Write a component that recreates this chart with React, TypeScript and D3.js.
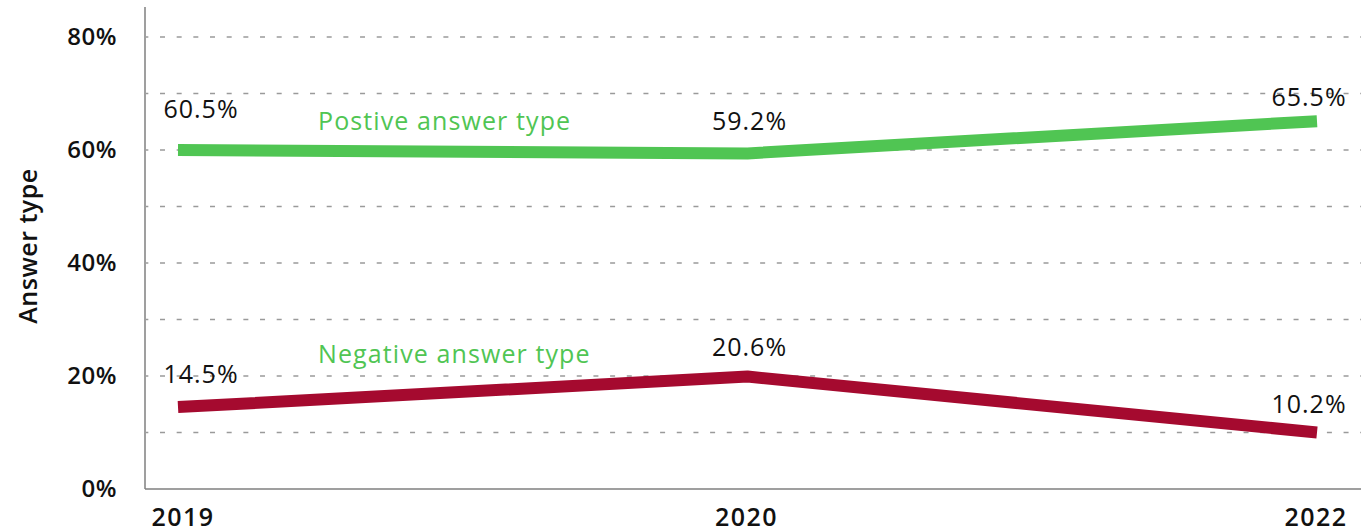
import { useEffect, useRef } from "react";
import * as d3 from "d3";

const years = ["2019", "2020", "2022"];
const positive = [60.0, 59.4, 65.1];
const negative = [14.5, 19.9, 10.0];
const positiveLabels = ["60.5%", "59.2%", "65.5%"];
const negativeLabels = ["14.5%", "20.6%", "10.2%"];
const gridTicks = [10, 20, 30, 40, 50, 60, 70, 80];
const yTickLabels = [0, 20, 40, 60, 80];

const FONT = "'Open Sans', 'DejaVu Sans', sans-serif";

const App = () => {
  const ref = useRef<SVGSVGElement>(null);

  useEffect(() => {
    const dims = { width: 1361, height: 530, left: 145, right: 1361, top: 7, bottom: 489 };
    const svg = d3.select(ref.current);
    svg.selectAll("*").remove();

    const x = d3.scalePoint().domain(years).range([178, 1317]);
    const y = d3.scaleLinear().domain([0, 80]).range([dims.bottom, 37]);

    // dashed gridlines
    svg
      .append("g")
      .selectAll("line")
      .data(gridTicks)
      .enter()
      .append("line")
      .attr("x1", dims.left + 1)
      .attr("x2", dims.right)
      .attr("y1", (d) => y(d))
      .attr("y2", (d) => y(d))
      .attr("stroke", "#9a9a9a")
      .attr("stroke-width", 1.3)
      .attr("stroke-dasharray", "5 11.67")
      .attr("stroke-dashoffset", 2.67);

    // axes lines
    svg
      .append("line")
      .attr("x1", dims.left)
      .attr("x2", dims.left)
      .attr("y1", dims.top)
      .attr("y2", dims.bottom)
      .attr("stroke", "#7f7f7f")
      .attr("stroke-width", 1.5);
    svg
      .append("line")
      .attr("x1", dims.left)
      .attr("x2", dims.right)
      .attr("y1", dims.bottom)
      .attr("y2", dims.bottom)
      .attr("stroke", "#7f7f7f")
      .attr("stroke-width", 1.5);

    // y tick labels
    svg
      .append("g")
      .selectAll("text")
      .data(yTickLabels)
      .enter()
      .append("text")
      .attr("x", 117)
      .attr("y", (d) => y(d))
      .attr("dy", "0.35em")
      .attr("text-anchor", "end")
      .attr("font-family", FONT)
      .attr("font-size", 24)
      .attr("font-weight", 600)
      .attr("letter-spacing", 0.5)
      .attr("fill", "#111")
      .text((d) => d + "%");

    // x tick labels
    svg
      .append("g")
      .selectAll("text")
      .data(years)
      .enter()
      .append("text")
      .attr("x", (d, i) => (x(d) as number) + [5, -1, -1][i])
      .attr("y", 526)
      .attr("text-anchor", "middle")
      .attr("font-family", FONT)
      .attr("font-size", 25)
      .attr("font-weight", 600)
      .attr("letter-spacing", 1.5)
      .attr("fill", "#111")
      .text((d) => d);

    // y axis title
    svg
      .append("text")
      .attr("transform", "translate(37,246) rotate(-90)")
      .attr("text-anchor", "middle")
      .attr("font-family", FONT)
      .attr("font-size", 25)
      .attr("font-weight", 600)
      .attr("letter-spacing", 0.5)
      .attr("fill", "#111")
      .text("Answer type");

    const line = d3
      .line<number>()
      .x((d, i) => x(years[i]) as number)
      .y((d) => y(d));

    const series = [
      { values: positive, labels: positiveLabels, color: "#50c553", dx: [23, 2, -8], dy: [-32, -23, -15] },
      { values: negative, labels: negativeLabels, color: "#a50a2f", dx: [23, 2, -8], dy: [-24, -21, -20] },
    ];

    series.forEach((s) => {
      svg
        .append("path")
        .datum(s.values)
        .attr("d", line)
        .attr("fill", "none")
        .attr("stroke", s.color)
        .attr("stroke-width", 12)
        .attr("stroke-linejoin", "round")
        .attr("stroke-linecap", "butt");

      svg
        .append("g")
        .selectAll("text")
        .data(s.values)
        .enter()
        .append("text")
        .attr("x", (d, i) => (x(years[i]) as number) + s.dx[i])
        .attr("y", (d, i) => y(d) + s.dy[i])
        .attr("text-anchor", "middle")
        .attr("font-family", FONT)
        .attr("font-size", 25)
        .attr("font-weight", 500)
        .attr("letter-spacing", 1)
        .attr("fill", "#111")
        .text((d, i) => s.labels[i]);
    });

    // series names
    const names = [
      { text: "Postive answer type", value: positive[0], dy: -20 },
      { text: "Negative answer type", value: negative[0], dy: -44 },
    ];
    svg
      .append("g")
      .selectAll("text")
      .data(names)
      .enter()
      .append("text")
      .attr("x", 318)
      .attr("y", (d) => y(d.value) + d.dy)
      .attr("font-family", FONT)
      .attr("font-size", 25)
      .attr("font-weight", 500)
      .attr("letter-spacing", 1.1)
      .attr("fill", "#50c553")
      .text((d) => d.text);
  }, []);

  return (
    <div style={{ position: "absolute", left: 0, top: 0 }}>
      <svg ref={ref} width={1361} height={530} style={{ display: "block" }} />
    </div>
  );
};

export default App;
